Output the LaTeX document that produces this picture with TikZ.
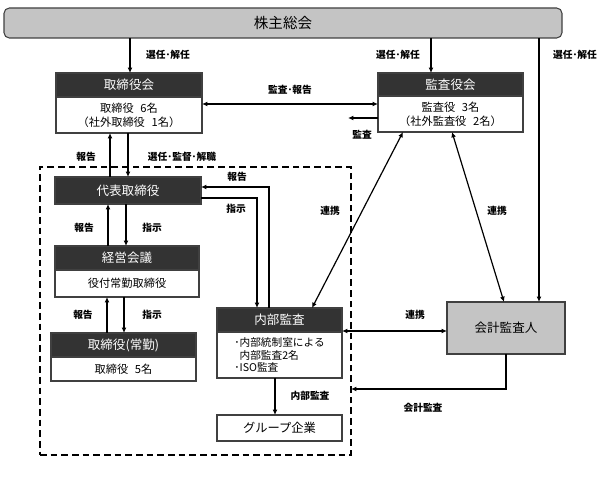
\documentclass[tikz,border=0pt]{standalone}
\usepackage{fontspec}
\setmainfont{Noto Sans CJK JP}
\usetikzlibrary{arrows.meta}
\definecolor{hdrfill}{HTML}{333333}
\definecolor{boxline}{HTML}{404040}
\definecolor{grayfill}{HTML}{C4C4C4}
\begin{document}
\begin{tikzpicture}[x=0.75pt,y=-0.75pt,
  every node/.style={inner sep=0pt,outer sep=0pt},
  hdr/.style={draw=boxline,fill=hdrfill,text=white,font=\fontsize{9.4pt}{11pt}\selectfont,line width=0.8pt},
  bodybox/.style={draw=boxline,fill=white,font=\fontsize{8.4pt}{10.5pt}\selectfont,align=center,line width=0.8pt},
  graybox/.style={draw=boxline,fill=grayfill,line width=0.8pt},
  lbl/.style={font=\bfseries\fontsize{7.3pt}{8pt}\selectfont},
  arr/.style={line width=0.9pt,-{Latex[length=4pt,width=3.6pt]}},
  darr/.style={line width=0.9pt,{Latex[length=4pt,width=3.6pt]}-{Latex[length=4pt,width=3.6pt]}},
  ln/.style={line width=0.9pt}]
\useasboundingbox (0,0) rectangle (611,495);

% frame
\node[draw=black,dashed,line width=1.1pt,dash pattern=on 5pt off 3pt,minimum width=311*0.75pt,minimum height=288*0.75pt] (frame) at (195.5,311) {};

% boxes
\node[graybox,rounded corners=4pt,minimum width=558*0.75pt,minimum height=30*0.75pt,font=\fontsize{10.9pt}{12pt}\selectfont] (sh) at (283,23) {株主総会};

\node[hdr,minimum width=146*0.75pt,minimum height=24*0.75pt] (bh) at (129,85) {取締役会};
\node[bodybox,minimum width=146*0.75pt,minimum height=36*0.75pt] (bb) at (129,115) {取締役\hspace{0.6em}6名\\（社外取締役\hspace{0.6em}1名）};

\node[hdr,minimum width=145*0.75pt,minimum height=23*0.75pt] (ah) at (450.5,84.5) {監査役会};
\node[bodybox,minimum width=145*0.75pt,minimum height=36*0.75pt] (ab) at (450.5,114) {監査役\hspace{0.6em}3名\\（社外監査役\hspace{0.6em}2名）};

\node[hdr,minimum width=146*0.75pt,minimum height=27*0.75pt] (rep) at (128,190.5) {代表取締役};

\node[hdr,minimum width=144*0.75pt,minimum height=24*0.75pt] (kh) at (127,258) {経営会議};
\node[bodybox,minimum width=144*0.75pt,minimum height=27*0.75pt] (kb) at (127,283.5) {役付常勤取締役};

\node[hdr,minimum width=145*0.75pt,minimum height=24*0.75pt] (th) at (123.5,345) {取締役(常勤)};
\node[bodybox,minimum width=145*0.75pt,minimum height=24*0.75pt] (tb) at (123.5,369) {取締役\hspace{0.6em}5名};

\node[hdr,minimum width=125*0.75pt,minimum height=24*0.75pt] (ih) at (279.5,320) {内部監査};
\node[bodybox,minimum width=125*0.75pt,minimum height=46*0.75pt,align=left,font=\fontsize{8pt}{9.6pt}\selectfont] (ib) at (279.5,355) {･内部統制室による\\\phantom{･}内部監査2名\\･ISO監査};

\node[bodybox,minimum width=125*0.75pt,minimum height=26*0.75pt,font=\fontsize{9.2pt}{11pt}\selectfont] (grp) at (279.5,428) {グループ企業};

\node[graybox,minimum width=118*0.75pt,minimum height=52*0.75pt,font=\fontsize{9.4pt}{11pt}\selectfont] (acc) at (506,328) {会計監査人};

% helper coordinates
\coordinate (x107) at (107,0);
\coordinate (x108) at (108,0);
\coordinate (x110) at (110,0);
\coordinate (x124) at (124,0);
\coordinate (x126) at (126,0);
\coordinate (x128) at (128,0);
\coordinate (x130) at (130,0);
\coordinate (x257) at (257,0);
\coordinate (x269) at (269,0);
\coordinate (x275) at (275,0);
\coordinate (x312) at (312,0);
\coordinate (x403) at (403,0);
\coordinate (x431) at (431,0);
\coordinate (x452) at (452,0);
\coordinate (x504) at (504,0);
\coordinate (x539) at (539,0);
\coordinate (y104) at (0,104);
\coordinate (y118) at (0,118);
\coordinate (y187) at (0,187);
\coordinate (y198) at (0,198);
\coordinate (y331) at (0,331);
\coordinate (y389) at (0,389);
\coordinate (auditEnd) at (348,118);

% connectors
\draw[arr] (sh.south -| x130) -- (bh.north -| x130);
\draw[arr] (sh.south -| x431) -- (ah.north -| x431);
\draw[arr] (sh.south -| x539) -- (acc.north -| x539);
\draw[darr] (bb.east |- y104) -- (ab.west |- y104);
\draw[arr] (ab.west |- y118) -- (auditEnd);
\draw[arr] (rep.north -| x110) -- (bb.south -| x110);
\draw[arr] (bb.south -| x128) -- (rep.north -| x128);
\draw[arr] (kh.north -| x108) -- (rep.south -| x108);
\draw[arr] (rep.south -| x126) -- (kh.north -| x126);
\draw[arr] (th.north -| x107) -- (kb.south -| x107);
\draw[arr] (kb.south -| x124) -- (th.north -| x124);
\draw[arr] (ih.north -| x269) -- (x269 |- y187) -- (rep.east |- y187);
\draw[arr] (rep.east |- y198) -- (x257 |- y198) -- (ih.north -| x257);
\draw[darr] (ab.south -| x403) -- (ih.north -| x312);
\draw[darr] (ab.south -| x452) -- (acc.north -| x504);
\draw[darr] (ib.east |- y331) -- (acc.west |- y331);
\draw[arr] (ib.south -| x275) -- (grp.north -| x275);
\draw[arr] (acc.south) -- (acc.south |- y389) -- (frame.east |- y389);

% labels
\node[lbl] (l1) at (168,55) {選任･解任};
\node[lbl] (l2) at (398,55) {選任･解任};
\node[lbl] (l3) at (575,55) {選任･解任};
\node[lbl] (l4) at (290,90) {監査･報告};
\node[lbl] (l5) at (362,135) {監査};
\node[lbl] (l6) at (86,157) {報告};
\node[lbl] (l7) at (182,157) {選任･監督･解職};
\node[lbl] (l8) at (84,228) {報告};
\node[lbl] (l9) at (152,228) {指示};
\node[lbl] (l10) at (83,315) {報告};
\node[lbl] (l11) at (152,315) {指示};
\node[lbl] (l12) at (237,177) {報告};
\node[lbl] (l13) at (236,209) {指示};
\node[lbl] (l14) at (330,211) {連携};
\node[lbl] (l15) at (497,211) {連携};
\node[lbl] (l16) at (415,315) {連携};
\node[lbl] (l17) at (310,396) {内部監査};
\node[lbl] (l18) at (423,408) {会計監査};
\end{tikzpicture}
\end{document}
